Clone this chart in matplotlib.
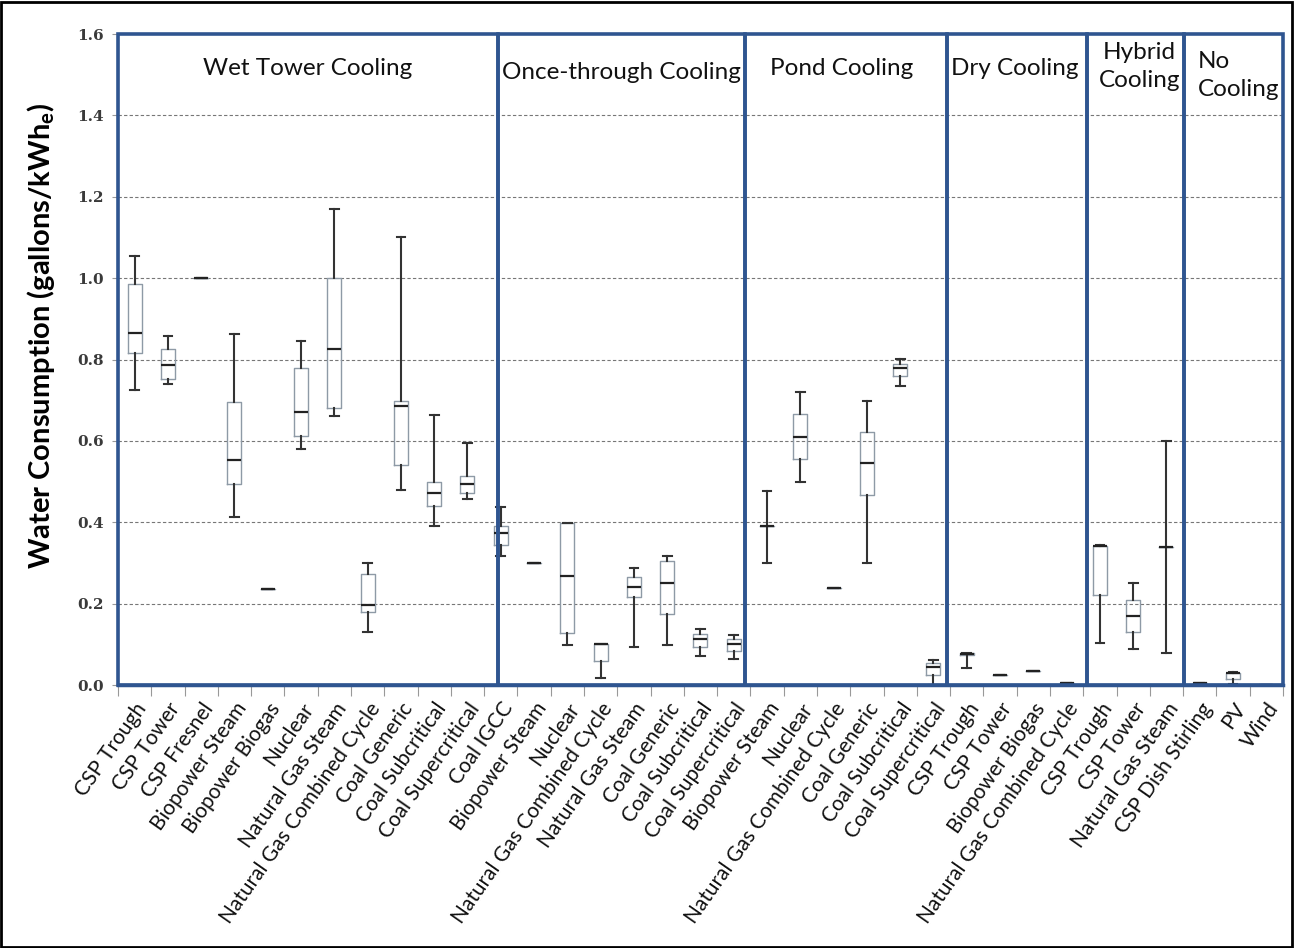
import matplotlib
matplotlib.use("Agg")
import matplotlib.pyplot as plt
from matplotlib.patches import Rectangle

# categories (grouped by cooling type)
labels = ["CSP Trough", "CSP Tower", "CSP Fresnel", "Biopower Steam", "Biopower Biogas",
          "Nuclear", "Natural Gas Steam", "Natural Gas Combined Cycle", "Coal Generic",
          "Coal Subcritical", "Coal Supercritical", "Coal IGCC",
          "Biopower Steam", "Nuclear", "Natural Gas Combined Cycle", "Natural Gas Steam",
          "Coal Generic", "Coal Subcritical", "Coal Supercritical",
          "Biopower Steam", "Nuclear", "Natural Gas Combined Cycle", "Coal Generic",
          "Coal Subcritical", "Coal Supercritical",
          "CSP Trough", "CSP Tower", "Biopower Biogas", "Natural Gas Combined Cycle",
          "CSP Trough", "CSP Tower", "Natural Gas Steam",
          "CSP Dish Stirling", "PV", "Wind"]

whis_hi = [1.055, 0.858, 1.0, 0.862, 0.235, 0.845, 1.17, 0.30, 1.10, 0.664, 0.594, 0.437,
           0.30, 0.399, 0.10, 0.288, 0.317, 0.138, 0.123,
           0.478, 0.719, 0.238, 0.699, 0.802, 0.061,
           0.079, 0.025, 0.034, 0.005,
           0.343, 0.25, 0.60,
           0.005, 0.032, 0.0]
q3 = [0.985, 0.825, 1.0, 0.696, 0.235, 0.78, 1.0, 0.274, 0.699, 0.50, 0.513, 0.391,
      0.30, 0.399, 0.10, 0.266, 0.305, 0.125, 0.112,
      0.39, 0.666, 0.238, 0.621, 0.79, 0.055,
      0.079, 0.025, 0.034, 0.005,
      0.342, 0.21, 0.339,
      0.005, 0.029, 0.0]
med = [0.864, 0.786, 1.0, 0.553, 0.235, 0.672, 0.826, 0.197, 0.686, 0.471, 0.493, 0.373,
       0.30, 0.269, 0.10, 0.242, 0.25, 0.114, 0.102,
       0.39, 0.61, 0.238, 0.545, 0.778, 0.045,
       0.076, 0.025, 0.034, 0.005,
       0.342, 0.17, 0.339,
       0.005, 0.029, 0.0]
q1 = [0.817, 0.753, 1.0, 0.493, 0.235, 0.613, 0.68, 0.179, 0.54, 0.441, 0.471, 0.345,
      0.30, 0.127, 0.059, 0.216, 0.174, 0.093, 0.084,
      0.39, 0.555, 0.238, 0.468, 0.759, 0.025,
      0.073, 0.025, 0.034, 0.005,
      0.221, 0.13, 0.339,
      0.005, 0.014, 0.0]
whis_lo = [0.725, 0.739, 1.0, 0.412, 0.235, 0.579, 0.661, 0.13, 0.479, 0.392, 0.456, 0.318,
           0.30, 0.098, 0.018, 0.093, 0.098, 0.071, 0.063,
           0.30, 0.498, 0.238, 0.30, 0.736, 0.0,
           0.043, 0.025, 0.034, 0.005,
           0.104, 0.088, 0.079,
           0.005, 0.002, 0.0]

# cooling sections: title, left edge, right edge (in category units)
sections = ["Wet Tower Cooling", "Once-through Cooling", "Pond Cooling", "Dry Cooling",
            "Hybrid\nCooling", "No\nCooling"]
section_edges = [0.0, 11.41, 18.83, 24.9, 29.1, 32.04, 35.0]
title_x = [5.7, 15.13, 21.74, 26.94, 30.69, 32.45]
title_y = [1.516, 1.506, 1.516, 1.516, 1.52, 1.498]

blue = "#2f5590"

fig = plt.figure(figsize=(12.95, 9.48), dpi=100)
ax = fig.add_axes([0.0911, 0.2774, 0.8996, 0.6867])

stats = []
for i in range(len(labels)):
    stats.append({"label": labels[i], "whislo": whis_lo[i], "q1": q1[i], "med": med[i],
                  "q3": q3[i], "whishi": whis_hi[i]})

pos = [i + 0.5 for i in range(len(labels))]
ax.bxp(stats, positions=pos, widths=0.42, showfliers=False, manage_ticks=False,
       boxprops=dict(color="#8e9aa6", linewidth=1.0),
       medianprops=dict(color="#222222", linewidth=1.6),
       whiskerprops=dict(color="#333333", linewidth=1.5),
       capprops=dict(color="#333333", linewidth=1.5), capwidths=0.26, zorder=4)

ax.set_xlim(0, len(labels))
ax.set_ylim(0, 1.6)
ax.set_yticks([0.0, 0.2, 0.4, 0.6, 0.8, 1.0, 1.2, 1.4, 1.6])
ax.set_yticklabels(["%.1f" % v for v in ax.get_yticks()], family="DejaVu Serif",
                   fontsize=11, color="#3a3a3a", fontweight="bold")
for y in [0.2, 0.4, 0.6, 0.8, 1.0, 1.2, 1.4]:
    ax.axhline(y, color="#777777", linestyle=(0, (3, 2)), linewidth=0.8, zorder=1)

ax.set_xticks(pos)
ax.set_xticklabels(labels, rotation=55, ha="right", rotation_mode="anchor",
                   family="Lato", fontsize=15, color="#111111")
ax.tick_params(axis="x", length=0, pad=10)
ax.set_xticks(range(len(labels) + 1), minor=True)
ax.tick_params(axis="x", which="minor", length=8, color="#999999", width=0.8)
ax.tick_params(axis="y", length=4, color="#999999", pad=6)

for s in ["top", "right"]:
    ax.spines[s].set_visible(False)
ax.spines["left"].set_color("#888888")
ax.spines["bottom"].set_color(blue)
ax.spines["bottom"].set_linewidth(2.5)

for k in range(len(sections)):
    x0 = section_edges[k]
    x1 = section_edges[k + 1]
    ax.add_patch(Rectangle((x0, 0), x1 - x0, 1.6, fill=False, edgecolor=blue,
                           linewidth=2.6, zorder=5, clip_on=False))
    ha = "left" if k == len(sections) - 1 else "center"
    ax.text(title_x[k], title_y[k], sections[k], ha=ha, va="center", family="Lato",
            fontsize=17.5, color="#111111", linespacing=1.4)

ax.set_ylabel("Water Consumption (gallons/kWh$_\\mathregular{e}$)", family="Lato",
              fontsize=21, fontweight="bold")
ax.yaxis.set_label_coords(-0.052, 0.537)

fig.add_artist(Rectangle((0.001, 0.001), 0.997, 0.997, transform=fig.transFigure,
                         fill=False, edgecolor="black", linewidth=2))

fig.savefig("out.png", dpi=100)
